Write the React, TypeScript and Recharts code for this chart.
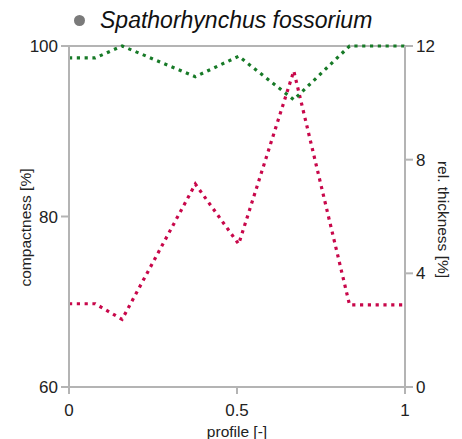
import { LineChart, Line, XAxis, YAxis, ReferenceLine, Label } from "recharts";

// profile positions (shared by both series)
const profile = [0, 0.078, 0.158, 0.376, 0.505, 0.669, 0.835, 1];
// compactness [%], left axis
const compactness = [98.6, 98.6, 100, 96.4, 98.8, 93.7, 100, 100];
// relative thickness [%], right axis
const relThickness = [2.93, 2.93, 2.38, 7.14, 5.03, 11.12, 2.89, 2.89];

const xTicks = [0, 0.5, 1];
const leftTicks = [60, 80, 100];
const rightTicks = [0, 4, 8, 12];

const data = profile.map((p, i) => ({
  profile: p,
  compactness: compactness[i],
  thickness: relThickness[i],
}));

const FONT = "'Liberation Sans', Arial, sans-serif";
const AXIS = "#b4b4b4";
const TEXT = "#222";

// axis title placed relative to the axis box
function AxisTitle({ viewBox, text, dx, dy, angle }: any) {
  const { x, y, width, height } = viewBox;
  const cx = angle === 0 ? x + width / 2 + dx : x + dx;
  const cy = angle === 0 ? y + dy : y + height / 2 + dy;
  return (
    <text
      x={cx}
      y={cy}
      transform={angle ? `rotate(${angle}, ${cx}, ${cy})` : undefined}
      textAnchor="middle"
      dominantBaseline="central"
      fill={TEXT}
      fontSize={15.5}
      fontFamily={FONT}
    >
      {text}
    </text>
  );
}

export default function App() {
  const tick = { fill: TEXT, fontSize: 17, fontFamily: FONT };
  return (
    <div style={{ position: "absolute", left: 0, top: 0, width: 462, height: 439, background: "#fff" }}>
      <div
        style={{
          position: "absolute",
          left: 74,
          top: 7,
          display: "flex",
          alignItems: "center",
          fontFamily: FONT,
          fontSize: 23,
          fontStyle: "italic",
          color: "#111",
        }}
      >
        <span
          style={{
            display: "inline-block",
            width: 11,
            height: 11,
            borderRadius: "50%",
            background: "#7a7a7a",
            marginRight: 15,
          }}
        />
        Spathorhynchus fossorium
      </div>
      <LineChart width={462} height={439} data={data} margin={{ top: 46, right: 0, bottom: 0, left: 0 }}>
        <XAxis
          dataKey="profile"
          type="number"
          domain={[0, 1]}
          ticks={xTicks}
          tickFormatter={(v) => String(v)}
          height={52}
          stroke={AXIS}
          strokeWidth={2}
          tickSize={7}
          tickMargin={10}
          tick={tick}
        >
          <Label content={(p: any) => <AxisTitle viewBox={p.viewBox} text="profile [-]" dx={0} dy={44} angle={0} />} />
        </XAxis>
        <YAxis
          yAxisId="left"
          domain={[60, 100]}
          ticks={leftTicks}
          width={69}
          stroke={AXIS}
          strokeWidth={2}
          tickSize={8}
          tickMargin={3}
          tick={tick}
        >
          <Label content={(p: any) => <AxisTitle viewBox={p.viewBox} text="compactness [%]" dx={25} dy={11} angle={-90} />} />
        </YAxis>
        <YAxis
          yAxisId="right"
          orientation="right"
          domain={[0, 12]}
          ticks={rightTicks}
          width={57}
          stroke={AXIS}
          strokeWidth={2}
          tickSize={8}
          tickMargin={3}
          tick={tick}
        >
          <Label content={(p: any) => <AxisTitle viewBox={p.viewBox} text="rel. thickness [%]" dx={38} dy={3} angle={90} />} />
        </YAxis>
        <ReferenceLine yAxisId="left" y={100} stroke={AXIS} strokeWidth={2} />
        <Line
          yAxisId="right"
          dataKey="thickness"
          type="linear"
          stroke="#c8074a"
          strokeWidth={3.2}
          strokeDasharray="3.2 4.6"
          dot={false}
          activeDot={false}
          isAnimationActive={false}
        />
        <Line
          yAxisId="left"
          dataKey="compactness"
          type="linear"
          stroke="#177a27"
          strokeWidth={3.2}
          strokeDasharray="3.2 4.6"
          dot={false}
          activeDot={false}
          isAnimationActive={false}
        />
      </LineChart>
    </div>
  );
}
